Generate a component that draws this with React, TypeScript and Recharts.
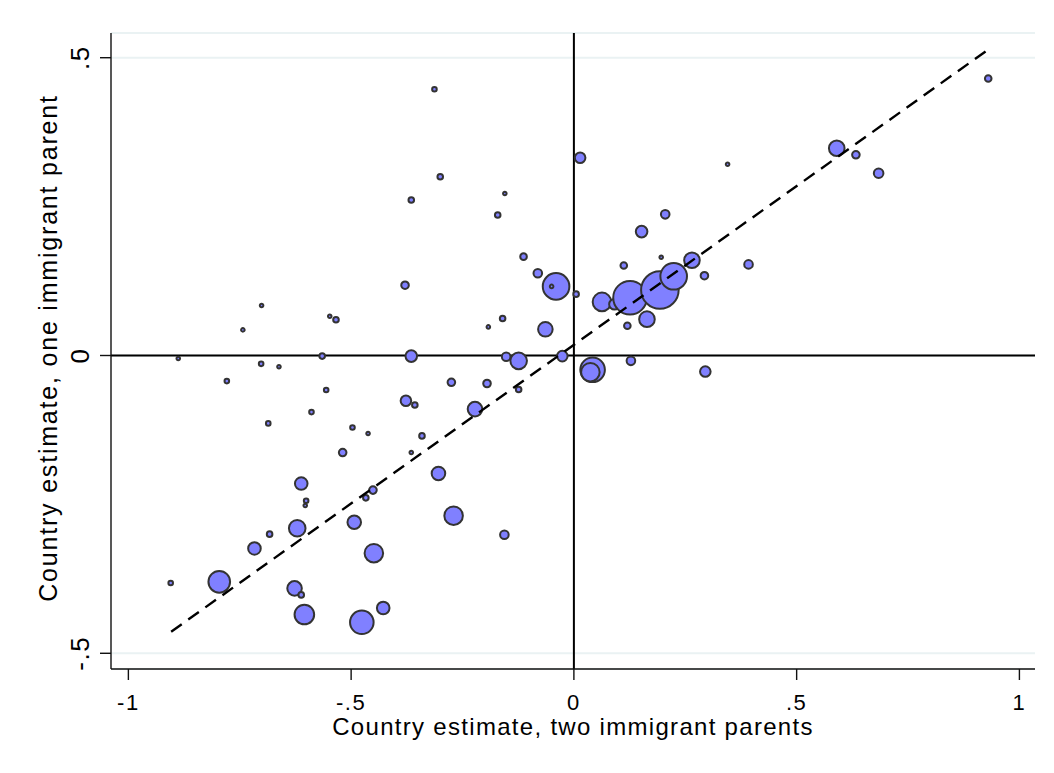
import React from 'react';
import {
  CartesianGrid,
  Label,
  ReferenceLine,
  Scatter,
  ScatterChart,
  XAxis,
  YAxis,
  ZAxis,
} from 'recharts';

// country estimates (x: two immigrant parents, y: one immigrant parent)
const twoParentEst = [
  -0.313, -0.3, -0.365, -0.155, -0.171, -0.113, -0.081, -0.04, -0.05, 0.005,
  0.014, 0.345, 0.59, 0.633, 0.684, 0.93, 0.205, 0.152, 0.196, 0.112,
  0.063, 0.091, 0.126, 0.193, 0.224, 0.265, 0.293, 0.392, 0.164, 0.12,
  -0.064, -0.379, -0.701, -0.743, -0.548, -0.534, -0.192, -0.16, -0.888, -0.702,
  -0.662, -0.565, -0.365, -0.152, -0.124, -0.026, 0.042, 0.037, 0.128, 0.295,
  -0.779, -0.556, -0.589, -0.686, -0.497, -0.462, -0.519, -0.275, -0.195, -0.124,
  -0.377, -0.357, -0.222, -0.341, -0.365, -0.304, -0.612, -0.601, -0.603, -0.451,
  -0.467, -0.27, -0.156, -0.621, -0.683, -0.493, -0.717, -0.449, -0.905, -0.796,
  -0.627, -0.612, -0.605, -0.476, -0.428,
];

const oneParentEst = [
  0.447, 0.3, 0.261, 0.272, 0.236, 0.166, 0.138, 0.116, 0.116, 0.103,
  0.332, 0.321, 0.348, 0.337, 0.306, 0.465, 0.237, 0.208, 0.165, 0.151,
  0.09, 0.086, 0.097, 0.11, 0.133, 0.16, 0.134, 0.153, 0.061, 0.05,
  0.044, 0.118, 0.084, 0.043, 0.066, 0.06, 0.048, 0.062, -0.005, -0.014,
  -0.019, -0.001, -0.001, -0.002, -0.009, -0.001, -0.024, -0.028, -0.009, -0.027,
  -0.043, -0.058, -0.095, -0.114, -0.121, -0.131, -0.163, -0.045, -0.047, -0.057,
  -0.076, -0.083, -0.09, -0.135, -0.163, -0.198, -0.215, -0.244, -0.252, -0.226,
  -0.239, -0.269, -0.301, -0.29, -0.3, -0.28, -0.324, -0.332, -0.382, -0.38,
  -0.391, -0.402, -0.435, -0.448, -0.424,
];

// bubble weights (area-proportional)
const countryWeight = [
  5.3, 7.8, 7.8, 3.2, 7.8, 10.9, 18.5, 177, 3.2, 7.8,
  28, 3.2, 61, 14.4, 23, 10.9, 18.5, 33.6, 3.2, 10.9,
  86, 28, 282, 353, 177, 61, 14.4, 18.5, 61, 10.9,
  53, 14.4, 3.2, 3.2, 3.2, 7.8, 3.2, 7.8, 3.2, 5.3,
  3.2, 7.8, 33.6, 18.5, 69, 28, 151, 86, 18.5, 28,
  5.3, 5.3, 5.3, 5.3, 5.3, 3.2, 14.4, 14.4, 14.4, 7.8,
  28, 7.8, 53, 7.8, 3.2, 46, 39.7, 5.3, 3.2, 14.4,
  7.8, 86, 18.5, 69, 7.8, 46, 39.7, 86, 5.3, 117,
  53, 7.8, 96, 139, 39.7,
];

// fitted line
const fitRange = [-0.904, 0.932];
const fitSlope = 0.533;
const fitIntercept = 0.018;

const xTicks = [-1, -0.5, 0, 0.5, 1];
const yTicks = [-0.5, 0, 0.5];

const FONT = '"Liberation Sans", Arial, Helvetica, sans-serif';

const points = twoParentEst.map((x, i) => ({ x, y: oneParentEst[i], w: countryWeight[i] }));
const fitLine = fitRange.map((x) => ({ x, y: fitIntercept + fitSlope * x }));

// stata style: drop the leading zero
const fmt = (v: number) => (v === 0 ? '0' : String(v).replace('0.', '.'));

function XTick({ x, y, payload }: any) {
  return (
    <text x={x} y={y + 30} textAnchor="middle" fontSize={22} letterSpacing={1.5} fill="#000" fontFamily={FONT}>
      {fmt(payload.value)}
    </text>
  );
}

function YTick({ x, y, payload }: any) {
  return (
    <text
      x={x}
      y={y}
      transform={`rotate(-90, ${x}, ${y})`}
      textAnchor="middle"
      fontSize={26}
      letterSpacing={1.5}
      fill="#000"
      fontFamily={FONT}
    >
      {fmt(payload.value)}
    </text>
  );
}

function XTitle({ viewBox }: any) {
  const cx = viewBox.x + viewBox.width / 2;
  return (
    <text x={cx} y={viewBox.y + 66} textAnchor="middle" fontSize={24} letterSpacing={1.3} fill="#000" fontFamily={FONT}>
      Country estimate, two immigrant parents
    </text>
  );
}

function YTitle({ viewBox }: any) {
  const tx = viewBox.x + 57;
  const ty = viewBox.y + viewBox.height / 2 - 3;
  return (
    <text
      x={tx}
      y={ty}
      transform={`rotate(-90, ${tx}, ${ty})`}
      textAnchor="middle"
      fontSize={25}
      letterSpacing={1.8}
      fill="#000"
      fontFamily={FONT}
    >
      Country estimate, one immigrant parent
    </text>
  );
}

export default function App() {
  return (
    <div style={{ position: 'absolute', left: 0, top: 0, width: 1054, height: 773, background: '#fff' }}>
      <ScatterChart width={1054} height={773} margin={{ top: 33, right: 19, left: 0, bottom: 0 }}>
        <CartesianGrid vertical={false} stroke="#eaf2f3" strokeWidth={2} />
        <XAxis
          type="number"
          dataKey="x"
          domain={[-1.039, 1.035]}
          ticks={xTicks}
          allowDataOverflow
          height={104}
          tick={<XTick />}
          tickSize={11}
          tickMargin={0}
          axisLine={{ stroke: '#111', strokeWidth: 1.4 }}
          tickLine={{ stroke: '#111', strokeWidth: 1.4 }}
        >
          <Label content={<XTitle />} />
        </XAxis>
        <YAxis
          type="number"
          dataKey="y"
          domain={[-0.5264, 0.5415]}
          ticks={yTicks}
          allowDataOverflow
          width={111}
          tick={<YTick />}
          tickSize={11}
          tickMargin={11}
          axisLine={{ stroke: '#111', strokeWidth: 1.4 }}
          tickLine={{ stroke: '#111', strokeWidth: 1.4 }}
        >
          <Label content={<YTitle />} />
        </YAxis>
        <ZAxis type="number" dataKey="w" domain={[0, 400]} range={[0, 400 * Math.PI]} />
        <ReferenceLine x={0} stroke="#000" strokeWidth={2} />
        <ReferenceLine y={0} stroke="#000" strokeWidth={2} />
        <Scatter
          data={points}
          fill="#8080ff"
          stroke="#333333"
          strokeWidth={2}
          isAnimationActive={false}
        />
        <Scatter
          data={fitLine}
          line={{ stroke: '#000', strokeWidth: 2.4, strokeDasharray: '13 8' }}
          shape={() => <g />}
          isAnimationActive={false}
        />
      </ScatterChart>
    </div>
  );
}
